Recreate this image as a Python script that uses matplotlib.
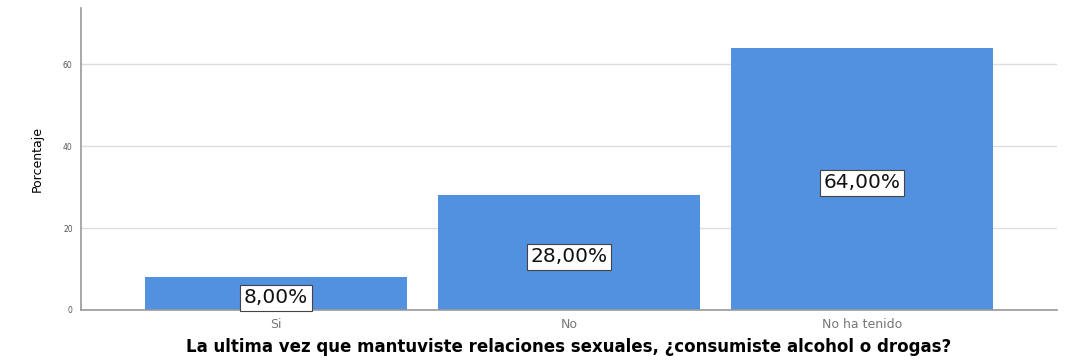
import matplotlib.pyplot as plt

categorias = ['Si', 'No', 'No ha tenido']
porcentajes = [8.0, 28.0, 64.0]
etiquetas = ['8,00%', '28,00%', '64,00%']
yticks = [0, 20, 40, 60]

fig = plt.figure(figsize=(10.67, 3.61), dpi=100)
ax = fig.add_axes([0.0759, 0.1413, 0.9147, 0.8367])

x = range(len(categorias))
bars = ax.bar(x, porcentajes, width=0.895, color='#5290e0', zorder=2)

# valor de cada barra centrado en su mitad
for b, val, txt in zip(bars, porcentajes, etiquetas):
    ax.text(b.get_x() + b.get_width() / 2, val / 2 - 1, txt,
            ha='center', va='center', fontsize=14.5, color='#111111',
            family='DejaVu Sans', zorder=3,
            bbox=dict(boxstyle='square,pad=0.18', fc='white', ec='#444444', lw=0.8))

ax.set_xlim(-0.666, 2.666)
ax.set_ylim(0, 73.7)
ax.set_yticks(yticks)
ax.set_yticklabels([str(t) for t in yticks], fontsize=5.5, color='#555555')
ax.set_xticks(list(x))
ax.set_xticklabels(categorias, fontsize=9, color='#777777')
ax.tick_params(axis='both', length=0, pad=6)

ax.grid(axis='y', color='#dddddd', lw=1, zorder=0)
for s in ['top', 'right']:
    ax.spines[s].set_visible(False)
for s in ['left', 'bottom']:
    ax.spines[s].set_color('#999999')
    ax.spines[s].set_linewidth(1.2)

ax.set_ylabel('Porcentaje', fontsize=9, family='Liberation Sans Narrow', labelpad=14)
ax.set_xlabel('La ultima vez que mantuviste relaciones sexuales, ¿consumiste alcohol o drogas?',
              fontsize=12, fontweight='bold', labelpad=5)

fig.savefig('out.png', dpi=100)
